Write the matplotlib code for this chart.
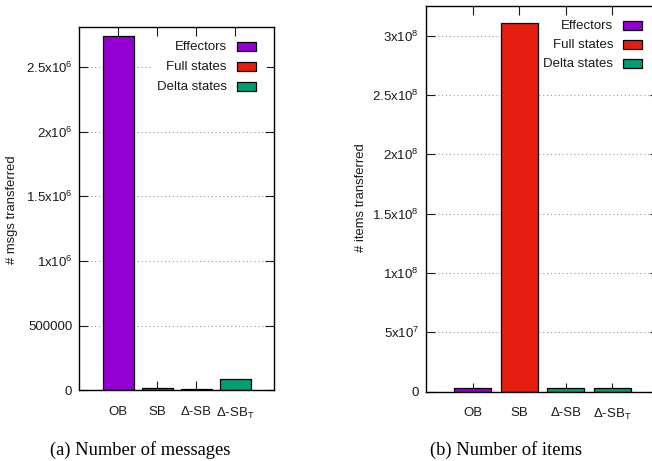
import matplotlib
matplotlib.use('Agg')
import matplotlib.pyplot as plt
from matplotlib.patches import Rectangle

plt.rcParams['font.family'] = ['Liberation Sans', 'DejaVu Sans']
plt.rcParams['mathtext.fontset'] = 'custom'
plt.rcParams['mathtext.rm'] = 'Liberation Sans'
plt.rcParams['mathtext.it'] = 'Liberation Sans:italic'
plt.rcParams['mathtext.bf'] = 'Liberation Sans:bold'

categories = ['OB', 'SB', 'Δ-SB', 'Δ-SB$_\\mathrm{T}$']
series = ['Effectors', 'Full states', 'Delta states']
series_colors = {'Effectors': '#9400d3', 'Full states': '#e51e10', 'Delta states': '#009e73'}

msgs = [2742000, 17000, 9000, 87000]
msgs_kind = ['Effectors', 'Delta states', 'Delta states', 'Delta states']
msgs_ticks = [0, 500000, 1e6, 1.5e6, 2e6, 2.5e6]
msgs_tick_labels = ['0', '500000', '1x10$^{6}$', '1.5x10$^{6}$', '2x10$^{6}$', '2.5x10$^{6}$']

items = [3.0e6, 3.106e8, 3.0e6, 3.0e6]
items_kind = ['Effectors', 'Full states', 'Delta states', 'Delta states']
items_ticks = [0, 5e7, 1e8, 1.5e8, 2e8, 2.5e8, 3e8]
items_tick_labels = ['0', '5x10$^{7}$', '1x10$^{8}$', '1.5x10$^{8}$', '2x10$^{8}$',
                     '2.5x10$^{8}$', '3x10$^{8}$']

W, H = 652, 461
fig = plt.figure(figsize=(W / 100, H / 100), dpi=100)


def px(x0, y0, x1, y1):
    return [x0 / W, 1 - y1 / H, (x1 - x0) / W, (y1 - y0) / H]


def draw(ax, vals, kinds, ticks, labels, ymax, leg_right, leg_top, row_h):
    xs = range(len(categories))
    ax.bar(xs, vals, width=0.8, color=[series_colors[k] for k in kinds],
           edgecolor='black', linewidth=0.9, zorder=3)
    ax.set_xlim(-1, len(categories))
    ax.set_ylim(0, ymax)
    ax.set_xticks(list(xs))
    ax.set_xticklabels(categories)
    ax.set_yticks(ticks)
    ax.set_yticklabels(labels)
    ax.tick_params(direction='in', length=6.5, width=0.8, top=True, right=True,
                   labelsize=9.5, colors='#1a1a1a')
    ax.tick_params(axis='x', pad=11)
    ax.tick_params(axis='y', pad=5)
    ax.yaxis.grid(True, color='#9a9a9a', linestyle=(0, (1, 2.5)), linewidth=0.8, zorder=0)
    for s in ax.spines.values():
        s.set_linewidth(1.0)
        s.set_zorder(5)
    # legend in gnuplot style: right aligned text, swatch on the right
    tr = ax.transAxes.inverted()
    bx0, by0 = tr.transform((leg_right - 75, H - (leg_top - 10)))
    bx1, by1 = tr.transform((leg_right + 40, H - (leg_top + 3 * row_h - 10)))
    ax.add_patch(Rectangle((bx0, by1), bx1 - bx0, by0 - by1, transform=ax.transAxes,
                           facecolor='white', edgecolor='none', zorder=2))
    for i, name in enumerate(series):
        yc = leg_top + i * row_h
        tx, ty = tr.transform((leg_right, H - yc))
        ax.text(tx, ty, name, transform=ax.transAxes, ha='right', va='center',
                fontsize=9.5, color='#1a1a1a', zorder=6)
        sx0, sy0 = tr.transform((leg_right + 10, H - yc - 4.5))
        sx1, sy1 = tr.transform((leg_right + 29, H - yc + 4.5))
        ax.add_patch(Rectangle((sx0, sy0), sx1 - sx0, sy1 - sy0, transform=ax.transAxes,
                               facecolor=series_colors[name], edgecolor='black',
                               linewidth=0.9, zorder=6))


ax1 = fig.add_axes(px(79.3, 27, 274.3, 390.3))
ax2 = fig.add_axes(px(426, 5.7, 659, 391.7))
fig.canvas.draw()
draw(ax1, msgs, msgs_kind, msgs_ticks, msgs_tick_labels, 2.81e6, 227, 46.7, 20)
draw(ax2, items, items_kind, items_ticks, items_tick_labels, 3.252e8, 613.3, 25.7, 19)

fig.text(12.5 / W, 1 - 210 / H, '# msgs transferred', rotation=90, ha='center',
         va='center', fontsize=9.4, color='#1a1a1a')
fig.text(361 / W, 1 - 197.5 / H, '# items transferred', rotation=90, ha='center',
         va='center', fontsize=9.4, color='#1a1a1a')

fig.text(140 / W, 1 - 450 / H, '(a) Number of messages', ha='center', va='center',
         fontsize=13.3, family='Liberation Serif')
fig.text(506.5 / W, 1 - 450 / H, '(b) Number of items', ha='center', va='center',
         fontsize=13.3, family='Liberation Serif')

fig.savefig('out.png', dpi=100)
